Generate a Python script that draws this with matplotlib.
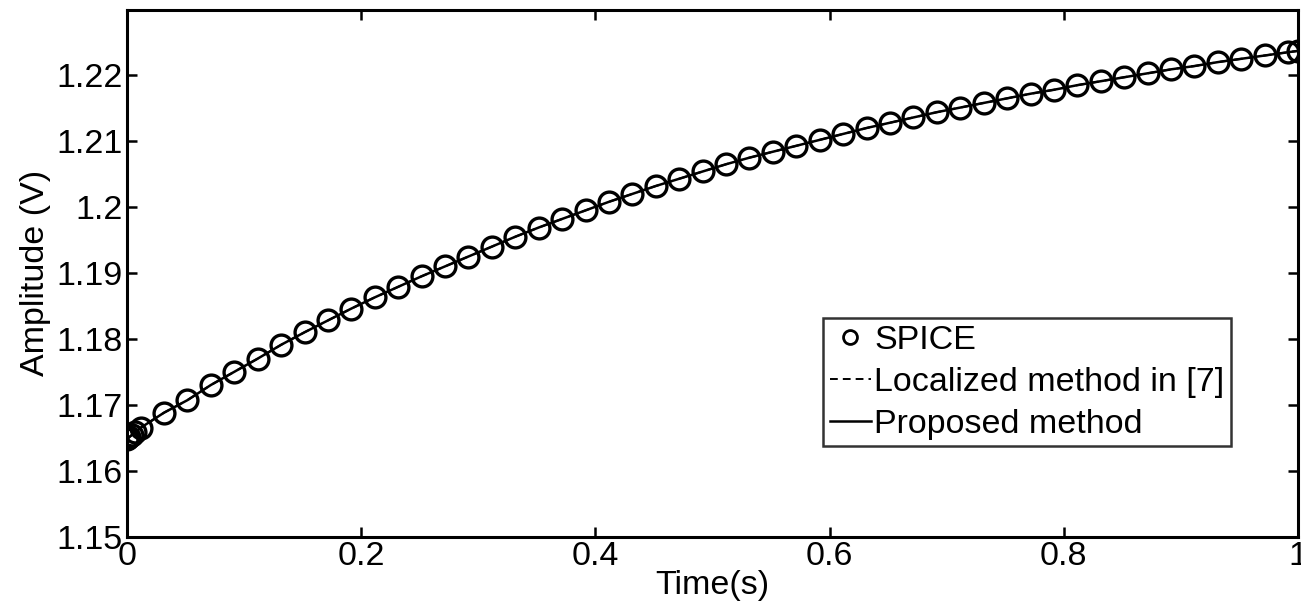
import matplotlib
matplotlib.use("Agg")
import matplotlib.pyplot as plt
from matplotlib.lines import Line2D

plt.rcParams['font.family'] = ['Liberation Sans', 'DejaVu Sans']

# SPICE sample times (s) and amplitudes (V)
time_s = [0.0, 0.001, 0.002, 0.004, 0.007,
          0.0116, 0.0316, 0.0516, 0.0716, 0.0916, 0.1116, 0.1316, 0.1516, 0.1716, 0.1916,
          0.2116, 0.2316, 0.2516, 0.2716, 0.2916, 0.3116, 0.3316, 0.3516, 0.3716, 0.3916,
          0.4116, 0.4316, 0.4516, 0.4716, 0.4916, 0.5116, 0.5316, 0.5516, 0.5716, 0.5916,
          0.6116, 0.6316, 0.6516, 0.6716, 0.6916, 0.7116, 0.7316, 0.7516, 0.7716, 0.7916,
          0.8116, 0.8316, 0.8516, 0.8716, 0.8916, 0.9116, 0.9316, 0.9516, 0.9716, 0.9916,
          1.0]
amplitude_v = [1.1648, 1.1649, 1.1651, 1.1654, 1.1658,
               1.1665, 1.1688, 1.1707, 1.1730, 1.1750, 1.1770, 1.1791, 1.1810, 1.1828, 1.1846,
               1.1863, 1.1879, 1.1895, 1.1910, 1.1925, 1.1940, 1.1955, 1.1969, 1.1982, 1.1995,
               1.2008, 1.2020, 1.2032, 1.2043, 1.2054, 1.2065, 1.2075, 1.2084, 1.2093, 1.2102,
               1.2111, 1.2120, 1.2128, 1.2136, 1.2144, 1.2151, 1.2158, 1.2165, 1.2172, 1.2178,
               1.2185, 1.2191, 1.2197, 1.2203, 1.2209, 1.2214, 1.2220, 1.2225, 1.2230, 1.2235,
               1.2237]

# Both methods overlay the SPICE curve
localized_v = list(amplitude_v)
proposed_v = list(amplitude_v)

x_ticks = [0, 0.2, 0.4, 0.6, 0.8, 1]
x_ticklabels = ['0', '0.2', '0.4', '0.6', '0.8', '1']
y_ticks = [1.15, 1.16, 1.17, 1.18, 1.19, 1.20, 1.21, 1.22]
y_ticklabels = ['1.15', '1.16', '1.17', '1.18', '1.19', '1.2', '1.21', '1.22']

fig = plt.figure(figsize=(13.01, 6.04), dpi=100)
ax = fig.add_axes([0.0976, 0.1116, 0.9001, 0.8718])

ax.plot(time_s, localized_v, color='black', linestyle=(0, (4, 3)), linewidth=1.5)
ax.plot(time_s, proposed_v, color='black', linestyle='-', linewidth=1.8)
ax.plot(time_s, amplitude_v, linestyle='none', marker='o', markersize=15,
        markerfacecolor='none', markeredgecolor='black', markeredgewidth=2.4)

ax.set_xlim(0, 1)
ax.set_ylim(1.15, 1.2299)
ax.set_xticks(x_ticks)
ax.set_xticklabels(x_ticklabels)
ax.set_yticks(y_ticks)
ax.set_yticklabels(y_ticklabels)

fs = 24.5
ax.tick_params(direction='in', length=7, width=1.8, top=True, right=True,
               labelsize=fs, pad=3)
for s in ax.spines.values():
    s.set_linewidth(2.2)

ax.set_xlabel('Time(s)', fontsize=fs, labelpad=-1)
ax.set_ylabel('Amplitude (V)', fontsize=fs, labelpad=4)

handles = [
    Line2D([], [], linestyle='none', marker='o', markersize=10, markerfacecolor='none',
           markeredgecolor='black', markeredgewidth=2.0),
    Line2D([], [], color='black', linestyle=(0, (4.0, 2.6)), linewidth=1.4),
    Line2D([], [], color='black', linestyle='-', linewidth=1.8),
]
labels = ['SPICE', 'Localized method in [7]', 'Proposed method']
leg = ax.legend(handles, labels, loc='upper left', bbox_to_anchor=(0.5945, 0.415),
                fontsize=fs, frameon=True, fancybox=False, handlelength=1.2,
                handletextpad=0.1, labelspacing=0.32, borderpad=0.2,
                borderaxespad=0, edgecolor='black')
leg.get_frame().set_linewidth(1.8)

fig.savefig('out.png', dpi=100)
